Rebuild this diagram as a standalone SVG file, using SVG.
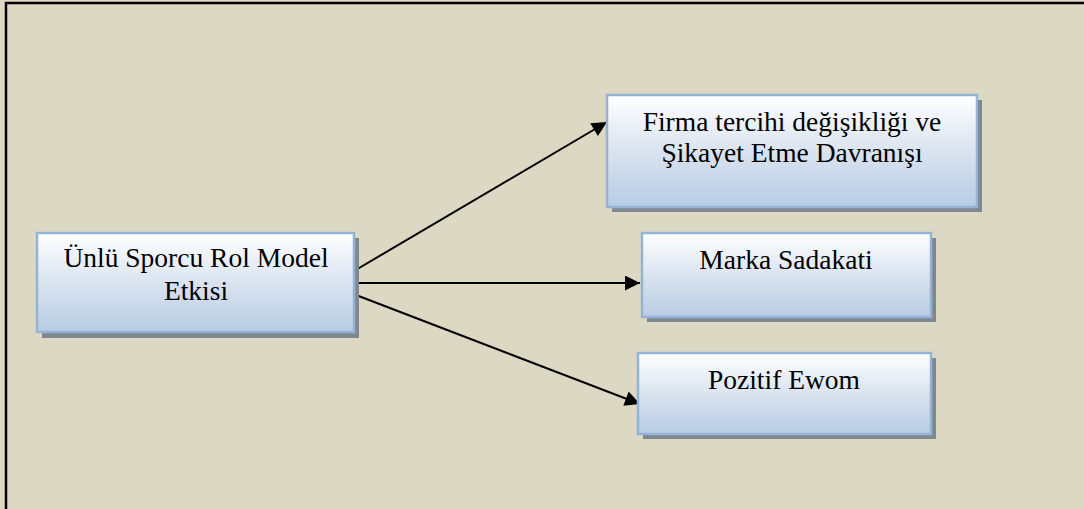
<svg xmlns="http://www.w3.org/2000/svg" width="1084" height="509" viewBox="0 0 1084 509">
  <style>
    .box { fill: url(#boxFill); stroke: #95b3d7; stroke-width: 2.5; }
    .shadow { fill: #7f8890; }
    .label { font-family: "Liberation Serif", "Times New Roman", serif; font-size: 27.5px; fill: #000; text-anchor: middle; }
    .link { stroke: #000; stroke-width: 2; fill: none; marker-end: url(#arrow); }
  </style>
  <defs>
    <linearGradient id="boxFill" x1="0" y1="0" x2="0" y2="1">
      <stop offset="0" stop-color="#ffffff"/>
      <stop offset="0.55" stop-color="#d6e1ee"/>
      <stop offset="1" stop-color="#b8cce4"/>
    </linearGradient>
    <marker id="arrow" viewBox="0 0 10 10" refX="10" refY="5" markerWidth="9" markerHeight="7.5" markerUnits="strokeWidth" orient="auto">
      <path d="M0,0 L10,5 L0,10 z" fill="#000"/>
    </marker>
  </defs>

  <!-- page background and frame edges -->
  <rect x="0" y="0" width="1084" height="509" fill="#ddd8c3"/>
  <path d="M6,509 V3 H1084" stroke="#000" stroke-width="2.5" fill="none"/>

  <g id="connectors">
    <line class="link" x1="354" y1="271" x2="607" y2="122"/>
    <line class="link" x1="354" y1="283" x2="640" y2="283"/>
    <line class="link" x1="356" y1="295" x2="640" y2="404"/>
  </g>

  <g id="node-etki">
    <rect class="shadow" x="42" y="238" width="317" height="100"/>
    <rect class="box" x="37" y="233" width="317" height="99"/>
    <text class="label" x="196" y="267">Ünlü Sporcu Rol Model</text>
    <text class="label" x="196" y="300">Etkisi</text>
  </g>

  <g id="node-firma">
    <rect class="shadow" x="612" y="100" width="370" height="112"/>
    <rect class="box" x="607" y="95" width="370" height="112"/>
    <text class="label" x="792" y="131">Firma tercihi değişikliği ve</text>
    <text class="label" x="792" y="162">Şikayet Etme Davranışı</text>
  </g>

  <g id="node-sadakat">
    <rect class="shadow" x="647" y="238" width="289" height="84"/>
    <rect class="box" x="642" y="233" width="289" height="84"/>
    <text class="label" x="786" y="269">Marka Sadakati</text>
  </g>

  <g id="node-ewom">
    <rect class="shadow" x="643" y="358" width="293" height="81"/>
    <rect class="box" x="638" y="353" width="293" height="81"/>
    <text class="label" x="784" y="389">Pozitif Ewom</text>
  </g>
</svg>
